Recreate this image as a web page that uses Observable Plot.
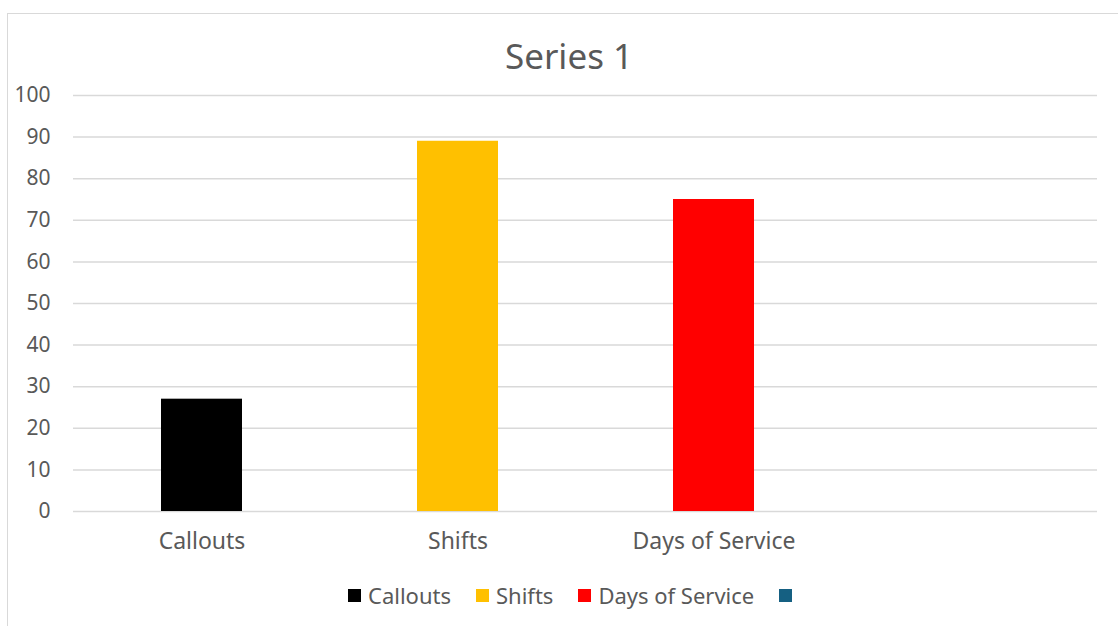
<!DOCTYPE html>
<html>
<head>
<meta charset="utf-8">
<script src="https://cdn.jsdelivr.net/npm/d3@7"></script>
<script src="https://cdn.jsdelivr.net/npm/@observablehq/plot@0.6"></script>
<style>
  html, body { margin: 0; padding: 0; background: #fff; width: 1118px; height: 626px; overflow: hidden; }
  body { font-family: "Noto Sans", "Open Sans", sans-serif; color: #595959; position: relative; }
  #frame { position: absolute; left: 7px; top: 13px; width: 1130px; height: 640px; border: 1.5px solid #d9d9d9; box-sizing: border-box; }
  #title { position: absolute; left: 10px; width: 1118px; top: 34px; text-align: center; font-size: 35px; line-height: 44px; color: #595959; }
  #chart { position: absolute; left: 0; top: 80px; }
  #legend { position: absolute; left: 348px; top: 580px; display: flex; align-items: center; font-size: 22px; line-height: 30px; color: #595959; white-space: nowrap; }
  .item { display: flex; align-items: center; margin-right: 25px; }
  .sw { width: 13px; height: 13px; margin-right: 7px; }
</style>
</head>
<body>
<div id="frame"></div>
<div id="title">Series 1</div>
<div id="chart"></div>
<div id="legend"></div>
<script>
const categories = ["Callouts", "Shifts", "Days of Service", ""];
const values = [27, 89, 75, null];
const colors = ["#000000", "#FFC000", "#FF0000", "#156082"];
const yTicks = [0, 10, 20, 30, 40, 50, 60, 70, 80, 90, 100];

const data = categories.map((c, i) => ({category: c, value: values[i]}));

const plot = Plot.plot({
  width: 1118,
  height: 481,
  marginLeft: 73,
  marginRight: 21,
  marginTop: 15,
  marginBottom: 50,
  style: {fontFamily: '"Noto Sans", "Open Sans", sans-serif', color: "#595959", background: "transparent"},
  x: {domain: categories, paddingInner: 0.684, paddingOuter: 0.342, label: null},
  y: {domain: [0, 100], label: null},
  color: {domain: categories, range: colors},
  marks: [
    Plot.ruleY(yTicks, {stroke: "#d9d9d9", strokeWidth: 1.5}),
    Plot.barY(data.filter(d => d.value != null), {x: "category", y: "value", fill: "category"}),
    Plot.axisY({ticks: yTicks, tickSize: 0, tickPadding: 23, fontSize: 21, label: null, fill: "#595959"}),
    Plot.axisX({tickSize: 0, tickPadding: 21, fontSize: 23, label: null, fill: "#595959"})
  ]
});
document.getElementById("chart").appendChild(plot);

const legend = document.getElementById("legend");
categories.forEach((c, i) => {
  const item = document.createElement("div");
  item.className = "item";
  const sw = document.createElement("span");
  sw.className = "sw";
  sw.style.background = colors[i];
  const t = document.createElement("span");
  t.textContent = c;
  item.appendChild(sw);
  item.appendChild(t);
  legend.appendChild(item);
});
</script>
</body>
</html>
